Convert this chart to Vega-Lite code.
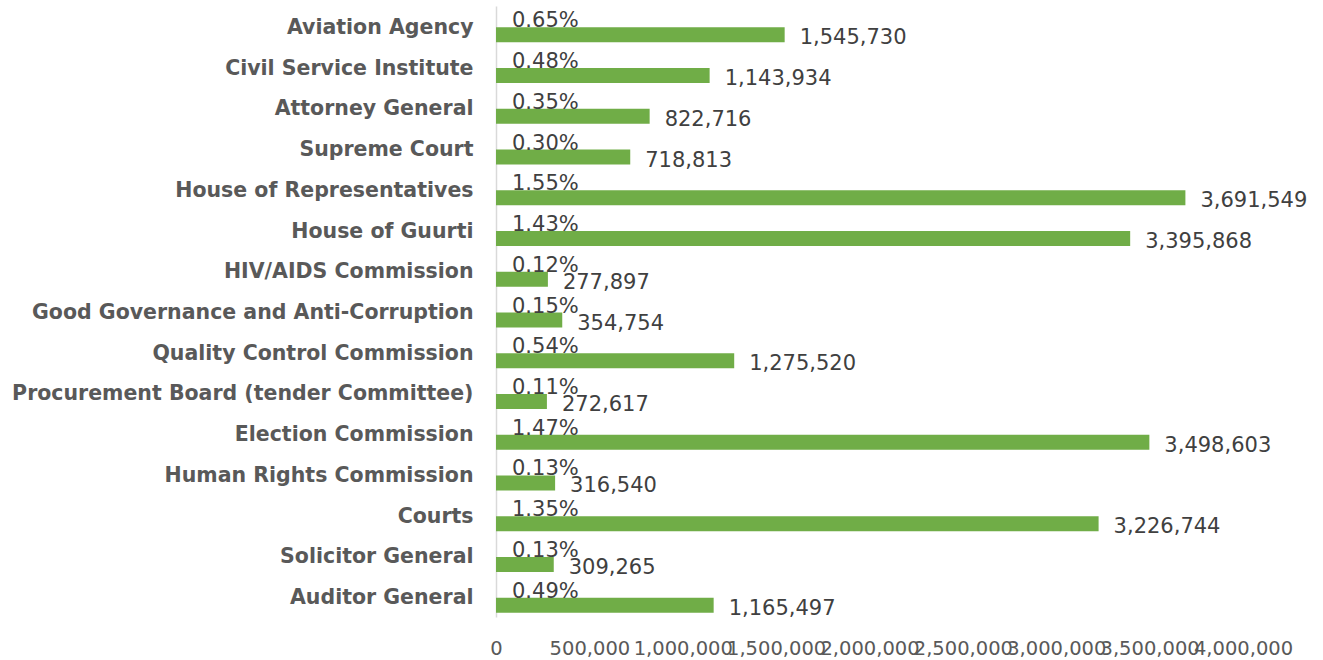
{
  "$schema": "https://vega.github.io/schema/vega-lite/v6.json",
  "width": 747,
  "height": 611,
  "autosize": {"type": "none"},
  "padding": {"left": 496, "top": 6, "right": 80, "bottom": 43},
  "background": "white",
  "config": {"view": {"stroke": null}, "font": "DejaVu Sans"},
  "data": {"values": [
    {"agency": "Aviation Agency", "value": 1545730, "pct": 0.0065},
    {"agency": "Civil Service Institute", "value": 1143934, "pct": 0.0048},
    {"agency": "Attorney General", "value": 822716, "pct": 0.0035},
    {"agency": "Supreme Court", "value": 718813, "pct": 0.0030},
    {"agency": "House of Representatives", "value": 3691549, "pct": 0.0155},
    {"agency": "House of Guurti", "value": 3395868, "pct": 0.0143},
    {"agency": "HIV/AIDS Commission", "value": 277897, "pct": 0.0012},
    {"agency": "Good Governance and Anti-Corruption", "value": 354754, "pct": 0.0015},
    {"agency": "Quality Control Commission", "value": 1275520, "pct": 0.0054},
    {"agency": "Procurement Board (tender Committee)", "value": 272617, "pct": 0.0011},
    {"agency": "Election Commission", "value": 3498603, "pct": 0.0147},
    {"agency": "Human Rights Commission", "value": 316540, "pct": 0.0013},
    {"agency": "Courts", "value": 3226744, "pct": 0.0135},
    {"agency": "Solicitor General", "value": 309265, "pct": 0.0013},
    {"agency": "Auditor General", "value": 1165497, "pct": 0.0049}
  ]},
  "encoding": {
    "y": {
      "field": "agency", "type": "nominal", "sort": null, "title": null,
      "scale": {"paddingInner": 0, "paddingOuter": 0},
      "axis": {"domain": true, "domainColor": "#d9d9d9", "domainWidth": 1.5, "ticks": false,
               "labelPadding": 23, "labelFont": "DejaVu Sans", "labelFontWeight": "bold",
               "labelFontSize": 20.5, "labelColor": "#595959", "labelLimit": 500, "labelOffset": 1.5}
    }
  },
  "layer": [
    {
      "mark": {"type": "bar", "color": "#70AD47", "height": 15, "yOffset": 8.5},
      "encoding": {
        "x": {"field": "value", "type": "quantitative", "title": null,
              "scale": {"domain": [0, 4000000], "nice": false},
              "axis": {"values": [0, 500000, 1000000, 1500000, 2000000, 2500000, 3000000, 3500000, 4000000],
                       "format": ",d", "domain": false, "ticks": false, "grid": false,
                       "labelPadding": 22, "labelFontSize": 19.5, "labelColor": "#595959",
                       "labelFont": "DejaVu Sans", "labelOverlap": false, "labelFlush": false}}
      }
    },
    {
      "mark": {"type": "text", "align": "left", "baseline": "middle", "dx": 16, "dy": -5,
               "fontSize": 21, "color": "#404040", "font": "DejaVu Sans"},
      "encoding": {
        "x": {"datum": 0, "type": "quantitative"},
        "text": {"field": "pct", "type": "quantitative", "format": ".2%"}
      }
    },
    {
      "mark": {"type": "text", "align": "left", "baseline": "middle", "dx": 15, "dy": 12,
               "fontSize": 21, "color": "#404040", "font": "DejaVu Sans"},
      "encoding": {
        "x": {"field": "value", "type": "quantitative"},
        "text": {"field": "value", "type": "quantitative", "format": ",d"}
      }
    }
  ]
}
